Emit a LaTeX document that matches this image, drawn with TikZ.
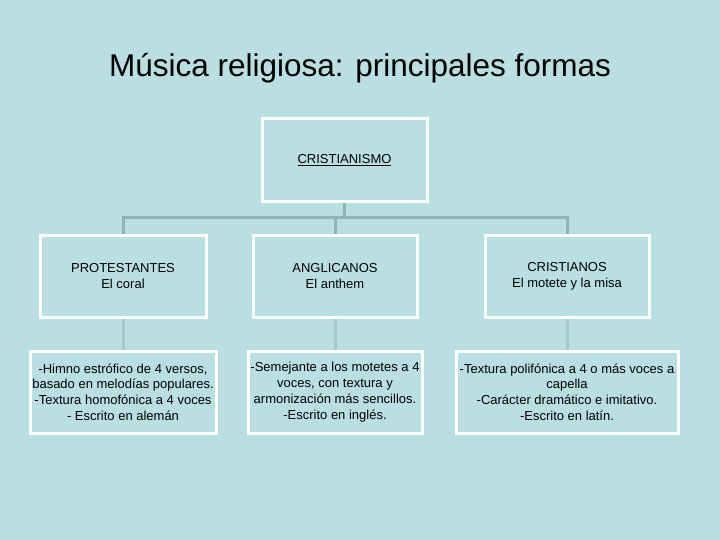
\documentclass[tikz,border=0pt]{standalone}
\usepackage{fontspec}
\setmainfont{Liberation Sans}
\definecolor{bg}{HTML}{B9DFE3}
\definecolor{ln}{HTML}{8FB3BA}
\definecolor{ln2}{HTML}{A5C8CD}
\begin{document}
\begin{tikzpicture}[x=1pt,y=-1pt,
  box/.style={draw=white,line width=3pt,fill=bg,align=center,font=\fontsize{13}{15.8}\selectfont,inner sep=0pt},
  conn/.style={ln,line width=3pt},
  conn2/.style={ln2,line width=3pt}]
\fill[bg] (0,0) rectangle (720,540);
\useasboundingbox (0,0) rectangle (720,540);
\node[font=\fontsize{31.5}{36}\selectfont] (title) at (360,68) {Música religiosa: principales formas};
\node[box,minimum width=165pt,minimum height=83pt] (top) at (344.5,160.5) {\underline{CRISTIANISMO}};
\node[box,minimum width=166pt,minimum height=82pt] (p) at (123,276) {PROTESTANTES\\El coral};
\node[box,minimum width=164pt,minimum height=82pt] (a) at (335,276) {ANGLICANOS\\El anthem};
\node[box,minimum width=164pt,minimum height=82pt] (c) at (567,276) {CRISTIANOS\\El motete y la misa};
\node[box,minimum width=186pt,minimum height=82pt] (p2) at (123,392) {-Himno estrófico de 4 versos,\\basado en melodías populares.\\-Textura homofónica a 4 voces\\- Escrito en alemán};
\node[box,minimum width=174pt,minimum height=82pt] (a2) at (335,392) {-Semejante a los motetes a 4\\voces, con textura y\\armonización más sencillos.\\-Escrito en inglés.};
\node[box,minimum width=222pt,minimum height=82pt] (c2) at (567,392) {-Textura polifónica a 4 o más voces a\\capella\\-Carácter dramático e imitativo.\\-Escrito en latín.};
\coordinate (j) at (344.5,218);
\draw[conn] (top.south) -- (j);
\draw[conn] (p.north) -- (p.north |- j) -- (c.north |- j) -- (c.north);
\draw[conn] (a.north) -- (a.north |- j);
\draw[conn2] (p.south) -- (p2.north);
\draw[conn2] (a.south) -- (a2.north);
\draw[conn2] (c.south) -- (c2.north);
\end{tikzpicture}
\end{document}
